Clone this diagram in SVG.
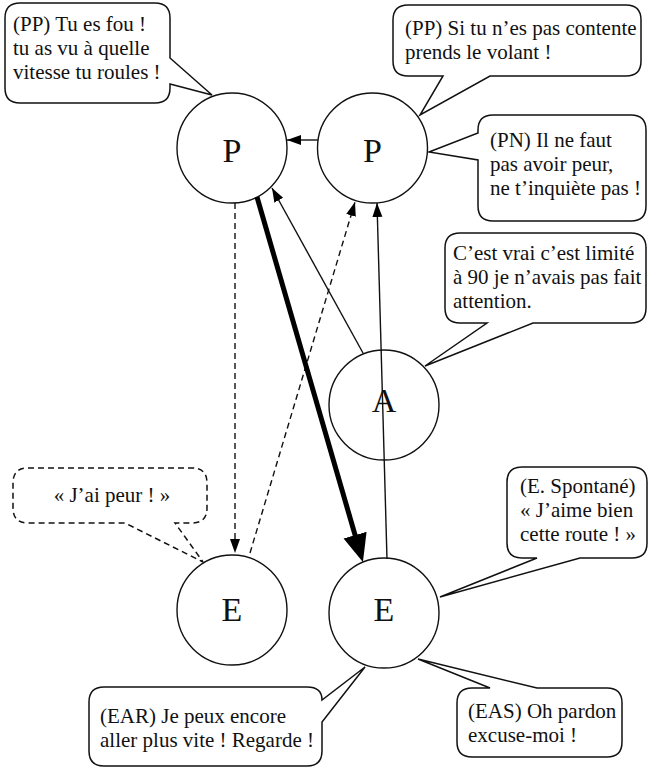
<svg xmlns="http://www.w3.org/2000/svg" width="649" height="770" viewBox="0 0 649 770">
<style>
.node{fill:#fff;stroke:#111;stroke-width:1.4}
.lbl{font-family:"Liberation Serif","Times New Roman",serif;font-size:34px;fill:#111;text-anchor:middle}
.bub{fill:#fff;stroke:#111;stroke-width:1.5;stroke-linejoin:miter}
.dash{stroke-dasharray:6 4}
.bt{font-family:"Liberation Serif","Times New Roman",serif;font-size:21px;fill:#111}
.ln{fill:none;stroke:#111;stroke-width:1.4}
.thick{fill:none;stroke:#000;stroke-width:5}
</style>
<defs>
<marker id="ah" markerUnits="userSpaceOnUse" markerWidth="16" markerHeight="12" refX="14" refY="5" orient="auto" viewBox="0 0 16 12">
<path d="M0,0 L14,5 L0,10 Z" fill="#000"/>
</marker>
<marker id="ahb" markerUnits="userSpaceOnUse" markerWidth="30" markerHeight="26" refX="18" refY="12" orient="auto" viewBox="0 0 30 26">
<path d="M0,0 L28,12 L0,24 Z" fill="#000"/>
</marker>
</defs>

<g id="bubbles">
<g id="b1">
<path class="bub" d="M20,3 H155 Q170,3 170,18 V58 L212,95 L170,84 V88 Q170,103 155,103 H20 Q5,103 5,88 V18 Q5,3 20,3 Z"/>
<text class="bt" x="13" y="31">(PP) Tu es fou !</text>
<text class="bt" x="13" y="55">tu as vu à quelle</text>
<text class="bt" x="13" y="79">vitesse tu roules !</text>
</g>
<g id="b2">
<path class="bub" d="M408,5 H626 Q641,5 641,20 V61 Q641,76 626,76 H490 L420,115 L443,76 H408 Q393,76 393,61 V20 Q393,5 408,5 Z"/>
<text class="bt" x="405" y="35">(PP) Si tu n’es pas contente</text>
<text class="bt" x="405" y="59">prends le volant !</text>
</g>
<g id="b3">
<path class="bub" d="M493,115 H631 Q646,115 646,130 V206 Q646,221 631,221 H493 Q478,221 478,206 V160 L429,152 L478,133 V130 Q478,115 493,115 Z"/>
<text class="bt" x="490" y="147">(PN) Il ne faut</text>
<text class="bt" x="490" y="171">pas avoir peur,</text>
<text class="bt" x="490" y="195">ne t’inquiète pas !</text>
</g>
<g id="b4">
<path class="bub" d="M460,233 H631 Q646,233 646,248 V308 Q646,323 631,323 H533 L425,366 L487,323 H460 Q445,323 445,308 V248 Q445,233 460,233 Z"/>
<text class="bt" x="453" y="260">C’est vrai c’est limité</text>
<text class="bt" x="453" y="284">à 90 je n’avais pas fait</text>
<text class="bt" x="453" y="308">attention.</text>
</g>
<g id="b5">
<path class="bub dash" d="M28,468 H192 Q207,468 207,483 V508 Q207,523 192,523 H175 L203,562 L125,523 H28 Q13,523 13,508 V483 Q13,468 28,468 Z"/>
<text class="bt" x="112" y="502" text-anchor="middle">« J’ai peur ! »</text>
</g>
<g id="b6">
<path class="bub" d="M522,467 H632 Q647,467 647,482 V543 Q647,558 632,558 H580 L440,597 L537,558 H522 Q507,558 507,543 V482 Q507,467 522,467 Z"/>
<text class="bt" x="520" y="493">(E. Spontané)</text>
<text class="bt" x="520" y="517">« J’aime bien</text>
<text class="bt" x="520" y="541">cette route ! »</text>
</g>
<g id="b7">
<path class="bub" d="M104,687 H307 Q322,687 322,700 L365,667 L322,722 V751 Q322,766 307,766 H104 Q89,766 89,751 V702 Q89,687 104,687 Z"/>
<text class="bt" x="100" y="723">(EAR) Je peux encore</text>
<text class="bt" x="100" y="747">aller plus vite ! Regarde !</text>
</g>
<g id="b8">
<path class="bub" d="M472,688 H490 L418,659 L537,688 H607 Q622,688 622,703 V742 Q622,757 607,757 H472 Q457,757 457,742 V703 Q457,688 472,688 Z"/>
<text class="bt" x="468" y="718">(EAS) Oh pardon</text>
<text class="bt" x="468" y="742">excuse-moi !</text>
</g>
</g>

<g id="nodeP1"><circle class="node" cx="232" cy="148" r="55"/><text class="lbl" x="232" y="162">P</text></g>
<g id="nodeP2"><circle class="node" cx="372.5" cy="148" r="55"/><text class="lbl" x="372.5" y="162">P</text></g>
<g id="nodeA"><circle class="node" cx="384" cy="405" r="55"/><text class="lbl" x="384" y="412">A</text></g>
<g id="nodeE1"><circle class="node" cx="232" cy="610" r="55"/><text class="lbl" x="232" y="621">E</text></g>
<g id="nodeE2"><circle class="node" cx="384" cy="613" r="55"/><text class="lbl" x="384" y="621">E</text></g>

<g id="connectors">
<line class="ln" x1="318" y1="140" x2="287" y2="140" marker-end="url(#ah)"/>
<line class="ln dash" x1="235" y1="203" x2="235" y2="553" marker-end="url(#ah)"/>
<line class="ln dash" x1="250" y1="553" x2="355" y2="202" marker-end="url(#ah)"/>
<line class="ln" x1="363" y1="353" x2="272" y2="188" marker-end="url(#ah)"/>
<line class="ln" x1="387" y1="559" x2="377" y2="203" marker-end="url(#ah)"/>
<line class="thick" x1="257" y1="197" x2="360.1" y2="552.4" marker-end="url(#ahb)"/>
</g>
</svg>
